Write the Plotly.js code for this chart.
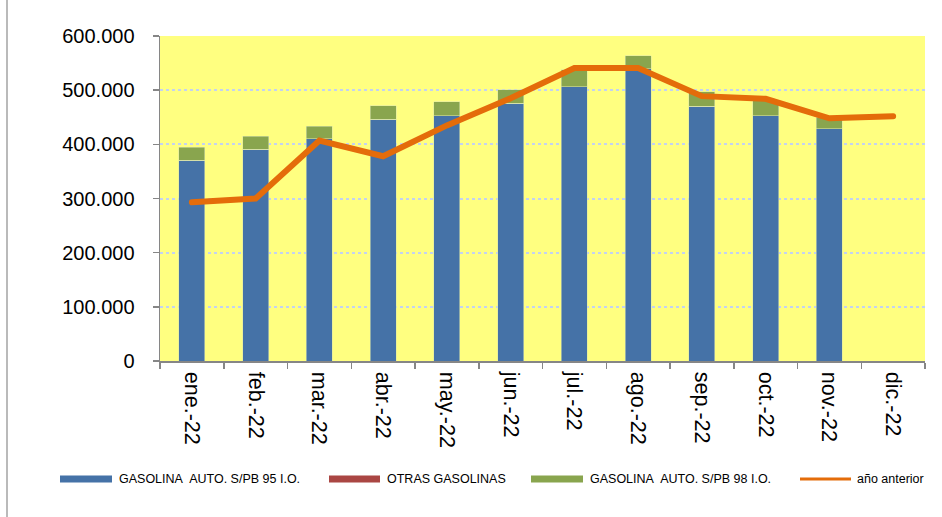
<!DOCTYPE html>
<html>
<head>
<meta charset="utf-8">
<script src="https://cdn.plot.ly/plotly-3.0.1.min.js"></script>
<style>
  html, body { margin: 0; padding: 0; background: #ffffff; }
  #chart { width: 942px; height: 517px; }
  .scatterlayer path.js-line { stroke-linecap: round; }
</style>
</head>
<body>
<div id="chart"></div>
<script>
// Monthly petrol consumption 2022 (stacked bars) vs previous year (line)
const months = ['ene.-22', 'feb.-22', 'mar.-22', 'abr.-22', 'may.-22', 'jun.-22',
                'jul.-22', 'ago.-22', 'sep.-22', 'oct.-22', 'nov.-22', 'dic.-22'];
const gasolina95 = [371000, 391000, 410000, 446000, 453000, 476000,
                    506000, 540000, 470000, 453000, 429000, null];
const otrasGasolinas = [0, 0, 0, 0, 0, 0, 0, 0, 0, 0, 0, null];
const gasolina98 = [24000, 24000, 23000, 25000, 26000, 25000,
                    32000, 24000, 27000, 28000, 21000, null];
const anioAnterior = [293000, 300000, 407000, 378000, 435000, 485000,
                      541000, 541000, 489000, 484000, 448000, 452000];
const seriesNames = ['GASOLINA\u00a0 AUTO. S/PB 95 I.O.', 'OTRAS GASOLINAS',
                     'GASOLINA\u00a0 AUTO. S/PB 98 I.O.', 'año anterior'];
const yTicks = [0, 100000, 200000, 300000, 400000, 500000, 600000];

const colors = { g95: '#4572a7', otras: '#aa4643', g98: '#89a54e', prev: '#e46c0a' };

const W = 942, H = 517;
const M = { l: 160, r: 17, t: 36, b: 156 };
const plotW = W - M.l - M.r, plotH = H - M.t - M.b;
// pixel -> paper coordinates (for the hand-built legend)
const px = x => (x - M.l) / plotW;
const py = y => (H - M.b - y) / plotH;

const barStyle = c => ({ color: c, line: { width: 0.6, color: 'rgba(220,230,170,0.9)' } });

const traces = [
  { type: 'bar', name: seriesNames[0], x: months, y: gasolina95, marker: barStyle(colors.g95), hoverinfo: 'y' },
  { type: 'bar', name: seriesNames[1], x: months, y: otrasGasolinas, marker: barStyle(colors.otras), hoverinfo: 'y' },
  { type: 'bar', name: seriesNames[2], x: months, y: gasolina98, marker: barStyle(colors.g98), hoverinfo: 'y' },
  { type: 'scatter', mode: 'lines', name: seriesNames[3], x: months, y: anioAnterior,
    line: { color: colors.prev, width: 6 }, hoverinfo: 'y' }
];

// Legend row drawn as shapes + text
const legendY = 479;
const legendItems = [
  { x0: 60, x1: 112, tx: 117, kind: 'rect', color: colors.g95, text: seriesNames[0] },
  { x0: 329, x1: 380, tx: 385, kind: 'rect', color: colors.otras, text: seriesNames[1] },
  { x0: 531, x1: 583, tx: 588, kind: 'rect', color: colors.g98, text: seriesNames[2] },
  { x0: 800, x1: 851, tx: 855, kind: 'line', color: colors.prev, text: seriesNames[3] }
];
const shapes = [];
const annotations = [];
legendItems.forEach(it => {
  if (it.kind === 'rect') {
    shapes.push({ type: 'rect', xref: 'paper', yref: 'paper',
      x0: px(it.x0), x1: px(it.x1), y0: py(legendY + 3.5), y1: py(legendY - 3.5),
      fillcolor: it.color, line: { width: 0 } });
  } else {
    shapes.push({ type: 'line', xref: 'paper', yref: 'paper',
      x0: px(it.x0), x1: px(it.x1), y0: py(legendY), y1: py(legendY),
      line: { color: it.color, width: 3 } });
  }
  annotations.push({ xref: 'paper', yref: 'paper', x: px(it.tx), y: py(legendY),
    xanchor: 'left', yanchor: 'middle', showarrow: false, text: it.text,
    font: { family: 'Liberation Sans, Arial, sans-serif', size: 12.5, color: '#000' } });
});
// left frame edge
shapes.push({ type: 'line', xref: 'paper', yref: 'paper',
  x0: px(7), x1: px(7), y0: py(0), y1: py(H),
  line: { color: '#8c8c8c', width: 1.2 } });

const layout = {
  width: W, height: H,
  margin: M,
  paper_bgcolor: '#ffffff',
  plot_bgcolor: '#ffff80',
  barmode: 'stack',
  bargap: 0.59,
  showlegend: false,
  separators: ',.',
  font: { family: 'Liberation Sans, Arial, sans-serif', color: '#000' },
  xaxis: {
    type: 'category',
    tickangle: 90,
    tickson: 'boundaries',
    ticks: 'outside', ticklen: 6, tickwidth: 1.5, tickcolor: '#868686',
    showline: true, linecolor: '#868686', linewidth: 1.5,
    showgrid: false,
    tickfont: { size: 21.5, color: '#000' },
    ticklabelstandoff: 5
  },
  yaxis: {
    range: [0, 600000],
    tickvals: yTicks,
    tickformat: ',d',
    ticks: 'outside', ticklen: 6, tickwidth: 1.5, tickcolor: '#868686',
    showline: true, linecolor: '#868686', linewidth: 1.5,
    showgrid: true, gridcolor: '#c3d2f0', gridwidth: 2, griddash: 'dot',
    zeroline: false,
    tickfont: { size: 20, color: '#000' },
    ticklabelstandoff: 14
  },
  shapes: shapes,
  annotations: annotations
};

Plotly.newPlot('chart', traces, layout, { staticPlot: true, displayModeBar: false });
</script>
</body>
</html>
